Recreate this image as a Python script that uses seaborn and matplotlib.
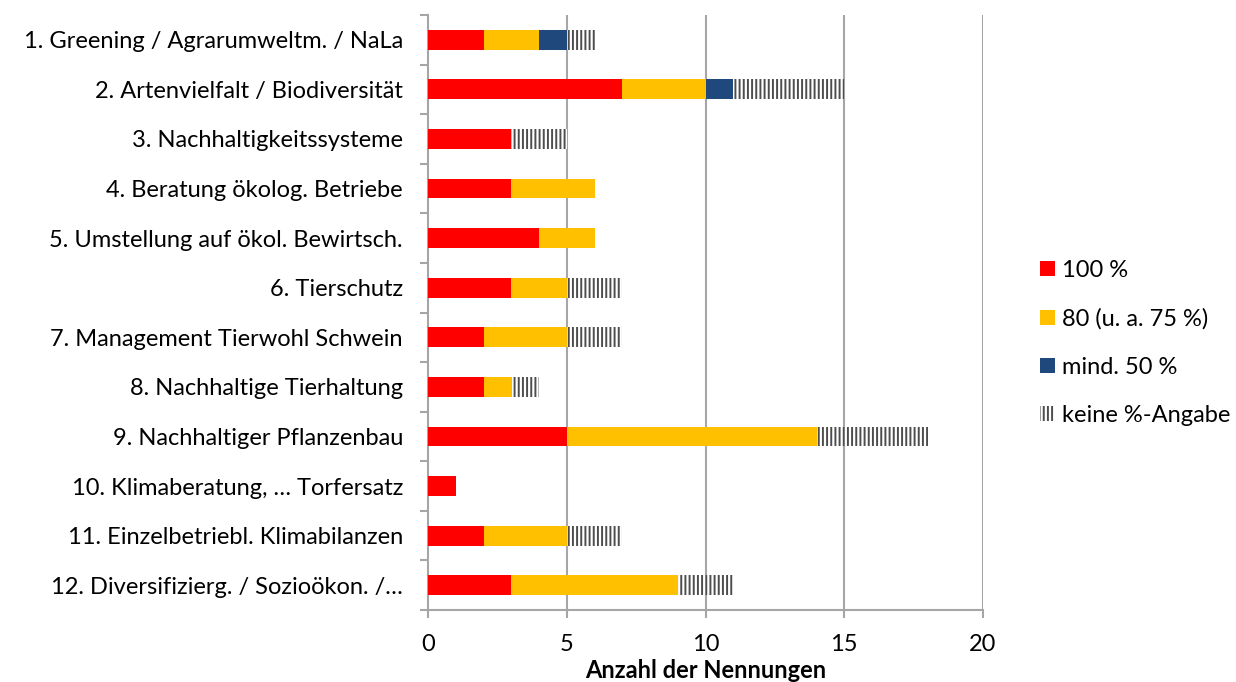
import matplotlib
matplotlib.use("Agg")
import matplotlib.pyplot as plt
import seaborn as sns
import pandas as pd
import numpy as np
from matplotlib.patches import Patch
from matplotlib.ticker import FixedLocator

categories = [
    "1. Greening / Agrarumweltm. / NaLa",
    "2. Artenvielfalt / Biodiversität",
    "3. Nachhaltigkeitssysteme",
    "4. Beratung ökolog. Betriebe",
    "5. Umstellung auf ökol. Bewirtsch.",
    "6. Tierschutz",
    "7. Management Tierwohl Schwein",
    "8. Nachhaltige Tierhaltung",
    "9. Nachhaltiger Pflanzenbau",
    "10. Klimaberatung, … Torfersatz",
    "11. Einzelbetriebl. Klimabilanzen",
    "12. Diversifizierg. / Sozioökon. /…",
]
v100 = [2, 7, 3, 3, 4, 3, 2, 2, 5, 1, 2, 3]
v80 = [2, 3, 0, 3, 2, 2, 3, 1, 9, 0, 3, 6]
v50 = [1, 1, 0, 0, 0, 0, 0, 0, 0, 0, 0, 0]
vnone = [1, 4, 2, 0, 0, 2, 2, 1, 4, 0, 2, 2]
series_labels = ["100 %", "80 (u. a. 75 %)", "mind. 50 %", "keine %-Angabe"]
colors = ["#FF0000", "#FFC000", "#1F497D", "white"]
xticks = [0, 5, 10, 15, 20]

font = "Lato"
plt.rcParams["font.family"] = [font, "DejaVu Sans"]
plt.rcParams["hatch.linewidth"] = 1.4
fs = 17

df = pd.DataFrame({"cat": categories, "a": v100, "b": v80, "c": v50, "d": vnone})
df["c1"] = df["a"]
df["c2"] = df["c1"] + df["b"]
df["c3"] = df["c2"] + df["c"]
df["c4"] = df["c3"] + df["d"]

fig = plt.figure(figsize=(12.36, 6.82), dpi=100)
ax = fig.add_axes([428/1236, 1-610/682, (983-428)/1236, (610-15)/682])

gridc = "#A6A6A6"
for x in xticks[1:]:
    ax.axvline(x, color=gridc, lw=1.5, zorder=0)

w = 0.4
hatchc = "#4D4D4D"
sns.barplot(data=df, y="cat", x="c4", orient="h", color="white", edgecolor=hatchc,
            hatch="||||", linewidth=0, width=w, ax=ax, order=categories, saturation=1, zorder=2)
sns.barplot(data=df, y="cat", x="c3", orient="h", color=colors[2], linewidth=0,
            width=w, ax=ax, order=categories, saturation=1, zorder=3)
sns.barplot(data=df, y="cat", x="c2", orient="h", color=colors[1], linewidth=0,
            width=w, ax=ax, order=categories, saturation=1, zorder=4)
sns.barplot(data=df, y="cat", x="c1", orient="h", color=colors[0], linewidth=0,
            width=w, ax=ax, order=categories, saturation=1, zorder=5)

ax.set_xlim(0, 20)
ax.set_ylim(11.5, -0.5)
ax.set_xticks(xticks)
ax.set_xticklabels([str(x) for x in xticks], fontsize=fs)
ax.set_yticks(range(len(categories)))
ax.set_yticklabels(categories, fontsize=fs)
ax.yaxis.set_minor_locator(FixedLocator(np.arange(-0.5, 12, 1)))
ax.tick_params(axis="y", which="major", length=0, pad=18)
ax.tick_params(axis="y", which="minor", length=6, color=gridc, width=1.5)
ax.tick_params(axis="x", which="major", length=6, color=gridc, width=1.5, pad=11)
ax.set_xlabel("Anzahl der Nennungen", fontsize=fs, fontweight="bold", labelpad=3)
ax.set_ylabel("")
for s in ["top", "right"]:
    ax.spines[s].set_visible(False)
for s in ["left", "bottom"]:
    ax.spines[s].set_color(gridc)
    ax.spines[s].set_linewidth(1.5)
ax.set_facecolor("white")

handles = [Patch(facecolor=colors[0], edgecolor="none"),
           Patch(facecolor=colors[1], edgecolor="none"),
           Patch(facecolor=colors[2], edgecolor="none"),
           Patch(facecolor="white", edgecolor=hatchc, hatch="||||", linewidth=0)]
fig.legend(handles, series_labels, loc="center left", bbox_to_anchor=(1040/1236, 1-343/682),
           frameon=False, fontsize=fs, handlelength=0.62, handleheight=0.62,
           handletextpad=0.3, labelspacing=1.15, borderaxespad=0, borderpad=0)

fig.savefig("out.png", dpi=100, facecolor="white")
